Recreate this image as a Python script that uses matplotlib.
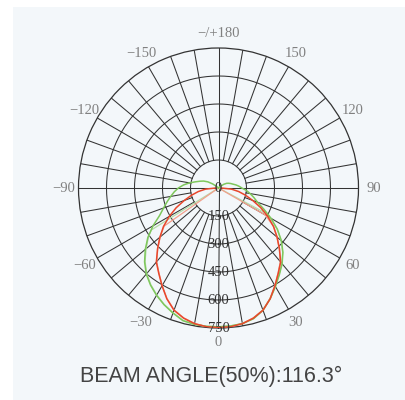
import numpy as np
import matplotlib
matplotlib.use("Agg")
import matplotlib.pyplot as plt
from matplotlib.patches import Rectangle

# ---------------- data ----------------
red_angles = [-90, -85, -80, -75, -70, -65, -60, -55, -50, -45, -40, -35, -30, -25, -20, -15, -10, -5,
              0, 5, 10, 15, 20, 25, 30, 35, 40, 45, 50, 55, 60, 65, 70, 75, 80, 85, 90]
red_values = [15, 70, 110, 150, 195, 250, 305, 360, 410, 462, 518, 558, 605, 655, 697, 722, 738, 746,
              748, 746, 738, 722, 697, 655, 605, 558, 518, 462, 410, 360, 305, 250, 195, 150, 110, 70, 15]

green_angles = [-135, -130, -125, -120, -115, -110, -105, -100, -95, -90, -85, -80, -75, -70, -65, -60,
                -55, -50, -45, -40, -35, -30, -25, -20, -15, -10, -5, 0, 5, 10, 15, 20, 25, 30, 35, 40,
                45, 50, 55, 60, 65, 70, 75, 80, 85, 90, 95, 100, 105, 110, 115, 120, 125, 130, 135]
green_values = [0, 12, 38, 66, 88, 106, 128, 158, 188, 215, 238, 260, 285, 313, 348, 405,
                462, 512, 560, 602, 635, 664, 690, 713, 736, 742, 744, 744, 742, 738, 725, 697, 655, 610, 568, 530,
                488, 440, 385, 325, 268, 222, 196, 172, 150, 125, 110, 95, 80, 70, 60, 50, 35, 15, 0]

faint_red_angles = [-90, -55, -50, -45, -40, -35, -30, -25, -20, -15, -10, -5, 0,
                    5, 10, 15, 20, 25, 30, 35, 40, 45, 50, 55, 60, 90]
faint_red_values = [0, 355, 408, 460, 515, 556, 603, 653, 695, 720, 737, 745, 747,
                    745, 737, 720, 695, 653, 603, 556, 515, 460, 408, 360, 290, 0]

faint_green_angles = [-90, -58, -55, -50, -45, -40, -35, -30, -25, -20, -15, -10, -5, 0,
                      5, 10, 15, 20, 25, 30, 35, 40, 45, 50, 55, 62, 90]
faint_green_values = [0, 425, 458, 506, 556, 598, 632, 661, 688, 711, 734, 741, 743, 743,
                      741, 737, 724, 696, 654, 608, 566, 528, 486, 438, 383, 300, 0]

ring_values = [150, 300, 450, 600, 750]
ring_labels = ["0", "150", "300", "450", "600", "750"]
spoke_angles = list(range(-170, 190, 10))
main_axes_angles = [0, 90, 180, -90]
theta_ticks = [0, 30, 60, 90, 120, 150, 180, -150, -120, -90, -60, -30]
theta_labels = ["0", "30", "60", "90", "120", "150", "\u2212/+180", "\u2212150", "\u2212120", "\u221290", "\u221260", "\u221230"]
title_text = "BEAM ANGLE(50%):116.3\u00b0"

# ---------------- figure ----------------
fig = plt.figure(figsize=(4.05, 4.0), dpi=100)
fig.patch.set_facecolor("white")
fig.patches.append(Rectangle((13 / 405, 0), 1, 1 - 7 / 400, transform=fig.transFigure,
                             facecolor="#f3f7fa", edgecolor="none", zorder=-10))

ax = fig.add_axes([78.5 / 405, 72 / 400, 280 / 405, 280 / 400], projection="polar")
ax.set_theta_zero_location("S")
ax.set_theta_direction(1)
ax.set_facecolor("#f3f7fa")
ax.set_ylim(0, 750)
ax.grid(False)
ax.set_xticks([])
ax.set_yticks([])
ax.spines["polar"].set_color("#333333")
ax.spines["polar"].set_linewidth(0.9)

grid_kw = dict(color="#333333", lw=0.75, zorder=1)
circ = np.linspace(0, 2 * np.pi, 361)
for r in ring_values[:-1]:
    ax.plot(circ, np.full_like(circ, r), **grid_kw)
for a in spoke_angles:
    if a in main_axes_angles:
        continue
    ax.plot([np.deg2rad(a)] * 2, [ring_values[0], ring_values[-1]], **grid_kw)
for a in main_axes_angles:
    ax.plot([np.deg2rad(a)] * 2, [0, ring_values[-1]], **grid_kw)

# curves
ax.plot(np.deg2rad(faint_green_angles), faint_green_values, color="#b5dca8", lw=0.9, zorder=3)
ax.plot(np.deg2rad(faint_red_angles), faint_red_values, color="#f2a08c", lw=0.9, zorder=3)
ax.plot(np.deg2rad(green_angles), green_values, color="#7ec75c", lw=1.1, zorder=4)
ax.plot(np.deg2rad(red_angles), red_values, color="#e8472c", lw=1.1, zorder=5)

serif = ["Liberation Serif", "DejaVu Serif"]
for r, lab in zip([0] + ring_values, ring_labels):
    ax.text(0, r, lab, ha="center", va="center", fontsize=10.5, color="#333333",
            family=serif, zorder=6)
for a, lab in zip(theta_ticks, theta_labels):
    ax.text(np.deg2rad(a), 830, lab, ha="center", va="center", fontsize=10.5, color="#808080",
            family=serif, clip_on=False)

fig.text(211 / 405, 1 - 376 / 400, title_text, ha="center", va="center", fontsize=15.5,
         color="#444444", family=["Liberation Sans", "DejaVu Sans"])

fig.savefig("out.png", dpi=100, facecolor=fig.get_facecolor())
